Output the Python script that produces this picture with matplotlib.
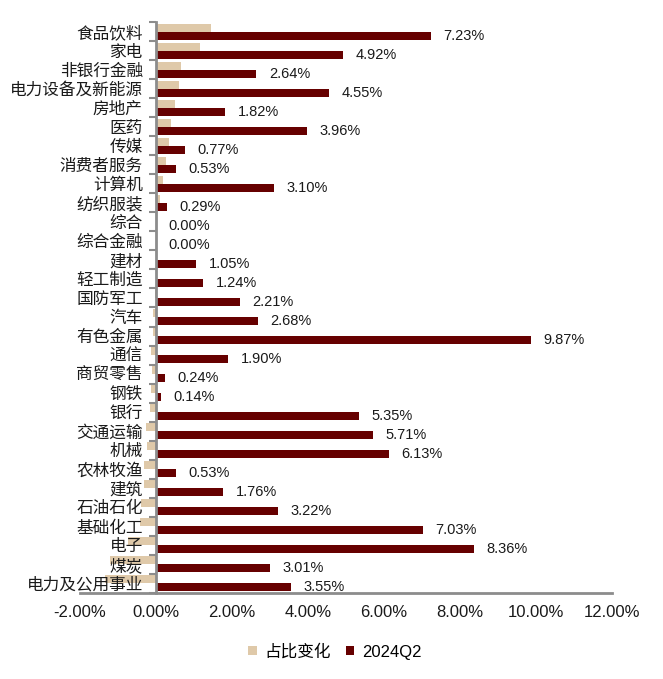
import numpy as np
import matplotlib
matplotlib.use("Agg")
from matplotlib import pyplot as plt
from matplotlib.ticker import FuncFormatter, FixedLocator

plt.rcParams['font.family'] = ['Liberation Sans', 'Noto Sans CJK SC', 'DejaVu Sans']

categories = ['食品饮料', '家电', '非银行金融', '电力设备及新能源', '房地产', '医药', '传媒',
              '消费者服务', '计算机', '纺织服装', '综合', '综合金融', '建材', '轻工制造',
              '国防军工', '汽车', '有色金属', '通信', '商贸零售', '钢铁', '银行', '交通运输',
              '机械', '农林牧渔', '建筑', '石油石化', '基础化工', '电子', '煤炭', '电力及公用事业']
share_2024q2 = [7.23, 4.92, 2.64, 4.55, 1.82, 3.96, 0.77, 0.53, 3.10, 0.29, 0.00, 0.00, 1.05, 1.24,
                2.21, 2.68, 9.87, 1.90, 0.24, 0.14, 5.35, 5.71, 6.13, 0.53, 1.76, 3.22, 7.03, 8.36,
                3.01, 3.55]
share_change = [1.45, 1.16, 0.66, 0.61, 0.50, 0.39, 0.34, 0.26, 0.18, 0.10, 0.00, 0.00, 0.01, 0.01,
                -0.03, -0.09, -0.08, -0.12, -0.11, -0.14, -0.16, -0.26, -0.25, -0.32, -0.32, -0.40,
                -0.42, -0.75, -1.20, -1.35]

tan = '#DFC9A9'
maroon = '#660000'
grey = '#8C8C8C'

fig = plt.figure(figsize=(6.63, 6.79), dpi=100)
ax = fig.add_axes([0.1207, 0.1267, 0.8024, 0.8409])

y = np.arange(len(categories))
h = 0.42
ax.barh(y - h / 2, share_change, height=h, color=tan, label='占比变化', zorder=1)
ax.barh(y + h / 2, share_2024q2, height=h, color=maroon, label='2024Q2', zorder=1)

for i, v in enumerate(share_2024q2):
    ax.annotate(f'{v:.2f}%', (v, i + h / 2), xytext=(9, 0), textcoords='offset points',
                va='center', ha='left', fontsize=10.5, color='#1a1a1a')

ax.set_xlim(-2, 12)
ax.set_ylim(len(categories) - 0.5, -0.5)
ax.set_xticks(np.arange(-2, 13, 2))
ax.xaxis.set_major_formatter(FuncFormatter(lambda v, p: f'{v:.2f}%'))
ax.tick_params(axis='x', length=0, pad=9, labelsize=12, colors='#1a1a1a')

ax.spines['left'].set_position(('data', 0))
ax.set_yticks(y)
ax.set_yticklabels(categories, fontsize=12)
ax.yaxis.set_minor_locator(FixedLocator(np.arange(len(categories) + 1) - 0.5))
ax.tick_params(axis='y', which='major', length=0, pad=9.5, labelcolor='#1a1a1a')
ax.tick_params(axis='y', which='minor', length=5, width=1.5, color=grey, direction='out')

for s in ['top', 'right']:
    ax.spines[s].set_visible(False)
ax.spines['left'].set_color(grey)
ax.spines['left'].set_linewidth(2)
ax.spines['bottom'].set_color(grey)
ax.spines['bottom'].set_linewidth(2)
ax.spines['left'].set_zorder(3)

leg = fig.legend(loc='center', bbox_to_anchor=(0.505, 0.04), ncol=2, frameon=False,
                 fontsize=12, handlelength=0.5, handleheight=0.5, handletextpad=0.45,
                 columnspacing=0.9)

fig.savefig('out.png', dpi=100)
